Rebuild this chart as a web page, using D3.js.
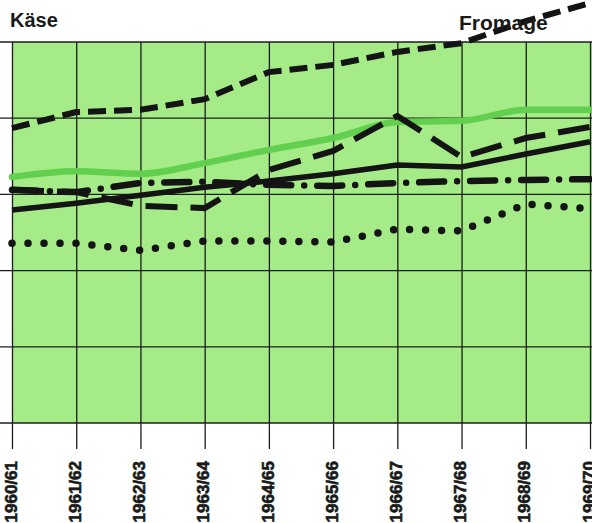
<!DOCTYPE html>
<html>
<head>
<meta charset="utf-8">
<script src="https://cdn.jsdelivr.net/npm/d3@7"></script>
<style>
  body { margin: 0; background: #fff; }
  svg { display: block; }
  text { font-family: "Liberation Sans", Arial, sans-serif; font-weight: bold; fill: #1a1a1a; }
</style>
</head>
<body>
<div id="chart"></div>
<script>
// seasons on the x axis
var seasons = ["1960/61", "1961/62", "1962/63", "1963/64", "1964/65",
               "1965/66", "1966/67", "1967/68", "1968/69", "1969/70"];

// values (no printed scale, grid = 2 units)
var fromage   = [7.74, 8.16, 8.22, 8.50, 9.21, 9.40, 9.74, 9.97, 10.55, 11.02];
var greenLine = [6.46, 6.61, 6.54, 6.82, 7.17, 7.48, 7.90, 7.93, 8.22, 8.22];
var longDash  = [6.12, 6.06, 5.70, 5.64, 6.64, 7.14, 8.06, 6.98, 7.48, 7.77];
var solid     = [5.59, 5.77, 5.98, 6.19, 6.35, 6.54, 6.77, 6.72, 7.06, 7.38];
var dashDot   = [6.12, 6.06, 6.30, 6.33, 6.25, 6.22, 6.30, 6.35, 6.38, 6.40];
var dotted    = [4.72, 4.72, 4.53, 4.78, 4.78, 4.75, 5.09, 5.04, 5.75, 5.62];

var yTicks = [0, 2, 4, 6, 8, 10];

var width = 592,
    height = 523,
    plot = {left: 12, right: 592, top: 42, bottom: 423},
    axisY = 449;

var x = d3.scalePoint().domain(seasons).range([12, 590]);
var y = d3.scaleLinear().domain([0, 10]).range([plot.bottom, plot.top]);

var svg = d3.select("#chart").append("svg")
    .attr("width", width)
    .attr("height", height);

// green paper
svg.append("rect")
    .attr("x", plot.left)
    .attr("y", plot.top)
    .attr("width", plot.right - plot.left)
    .attr("height", plot.bottom - plot.top)
    .attr("fill", "#a5ec88");

// horizontal grid, runs out to the left edge
svg.append("g").selectAll("line")
    .data(yTicks).enter()
    .append("line")
    .attr("x1", 0)
    .attr("x2", width)
    .attr("y1", function (d) { return y(d); })
    .attr("y2", function (d) { return y(d); })
    .attr("stroke", "#1c1c1c")
    .attr("stroke-width", 1.3);

// x axis: ticks reach up through the plot as vertical grid
var xAxis = svg.append("g")
    .attr("transform", "translate(0," + axisY + ")")
    .call(d3.axisBottom(x).tickSize(-(axisY - plot.top)).tickSizeOuter(0));
xAxis.select(".domain").remove();
xAxis.selectAll(".tick line")
    .attr("stroke", "#1c1c1c")
    .attr("stroke-width", 1.3);
xAxis.selectAll(".tick text")
    .attr("transform", "rotate(-90)")
    .attr("text-anchor", "end")
    .attr("x", -12)
    .attr("y", -2)
    .attr("dy", "0.36em")
    .style("font-size", "17px")
    .style("font-family", "'Liberation Sans', Arial, sans-serif")
    .style("font-weight", "bold")
    .attr("fill", "#1a1a1a")
    .attr("stroke", "#1a1a1a")
    .attr("stroke-width", 0.6);

function lineOf(values, curve) {
  return d3.line()
      .curve(curve || d3.curveLinear)
      .x(function (d, i) { return x(seasons[i]); })
      .y(function (d) { return y(d); })(values);
}

var series = [
  {values: greenLine, color: "#62cf4e", width: 6.5, dash: null, cap: "round", curve: d3.curveMonotoneX},
  {values: dotted, color: "#141414", width: 7.5, dash: "0,16", cap: "round"},
  {values: dashDot, color: "#141414", width: 6.5, dash: "25,13,0,13", cap: "round"},
  {values: solid, color: "#141414", width: 5.5, dash: null, cap: "butt"},
  {values: longDash, color: "#141414", width: 6, dash: "32,13", cap: "butt"},
  {values: fromage, color: "#141414", width: 6, dash: "18,8", cap: "butt"}
];

svg.append("g").selectAll("path")
    .data(series).enter()
    .append("path")
    .attr("d", function (d) { return lineOf(d.values, d.curve); })
    .attr("fill", "none")
    .attr("stroke", function (d) { return d.color; })
    .attr("stroke-width", function (d) { return d.width; })
    .attr("stroke-dasharray", function (d) { return d.dash; })
    .attr("stroke-linecap", function (d) { return d.cap; })
    .attr("stroke-linejoin", "miter");

// titles
svg.append("text")
    .attr("x", 10)
    .attr("y", 27)
    .style("font-size", "20px")
    .text("Käse");

svg.append("text")
    .attr("x", 459)
    .attr("y", 30)
    .style("font-size", "21px")
    .text("Fromage");
</script>
</body>
</html>
